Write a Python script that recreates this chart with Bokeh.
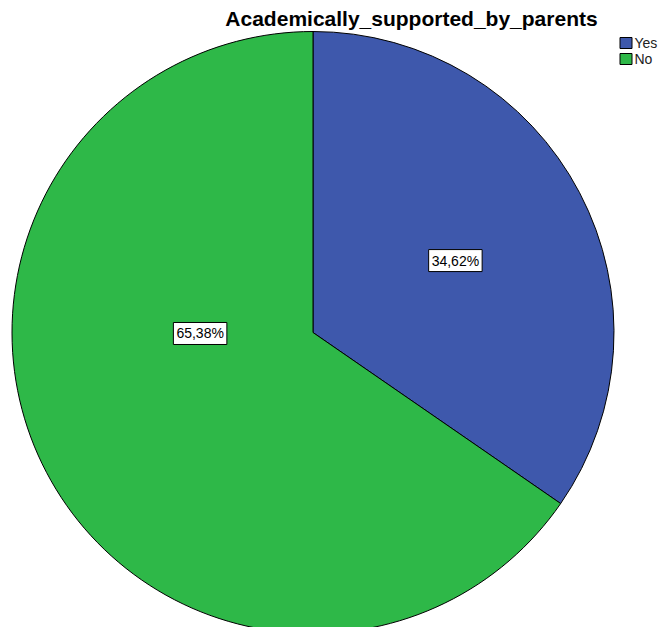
import math
from bokeh.plotting import figure
from bokeh.models import ColumnDataSource, Label
from bokeh.core.properties import value
from bokeh.embed import file_html
from bokeh.resources import INLINE

categories = ["Yes", "No"]
percents = [34.62, 65.38]
colors = ["#3e58ac", "#2eb848"]
title_text = "Academically_supported_by_parents"

W, H = 662, 627
p = figure(width=W, height=H, output_backend="svg", toolbar_location=None,
           x_range=(0, W), y_range=(0, H), min_border=0)
p.axis.visible = False
p.grid.visible = False
p.outline_line_color = None
p.background_fill_color = "white"
p.border_fill_color = "white"

cx, cy, r = 312.5, H - 332, 301
total = sum(percents)
starts, ends = [], []
a = math.pi / 2
for v in percents:
    e = a - v / total * 2 * math.pi
    starts.append(e)
    ends.append(a)
    a = e

src = ColumnDataSource(dict(cat=categories, start=starts, end=ends, color=colors,
                            x=[cx] * 2, y=[cy] * 2))
p.wedge(x="x", y="y", radius=r, start_angle="start", end_angle="end",
        fill_color="color", line_color="black", line_width=1, source=src)

# percentage labels
label_anchor = [(0.53, math.radians(26.8)), (0.375, math.radians(180.5))]
for v, (f, ang) in zip(percents, label_anchor):
    lx = cx + f * r * math.cos(ang)
    ly = cy + f * r * math.sin(ang)
    txt = f"{v:.2f}%".replace(".", ",")
    p.add_layout(Label(x=lx, y=ly, text=txt, text_align="center", text_baseline="middle",
                       text_font="Liberation Sans", text_font_size="14px", text_color="black",
                       background_fill_color="white", border_line_color="black",
                       border_line_width=1, padding=3))

# title
p.text(x=[411], y=[H - 18], text=[title_text], text_align="center", text_baseline="middle",
       text_font=value("Liberation Sans"), text_font_style="bold", text_font_size="21px",
       text_color="black")

# legend
for i, (c, col) in enumerate(zip(categories, colors)):
    yy = H - (42.5 + i * 16)
    p.rect(x=[625.5], y=[yy], width=12, height=11, fill_color=col, line_color="black", line_width=1)
    p.text(x=[634], y=[yy], text=[c], text_align="left", text_baseline="middle",
           text_font=value("Liberation Sans"), text_font_size="14px", text_color="#222222")

open("out.html", "w").write(file_html(p, INLINE))
